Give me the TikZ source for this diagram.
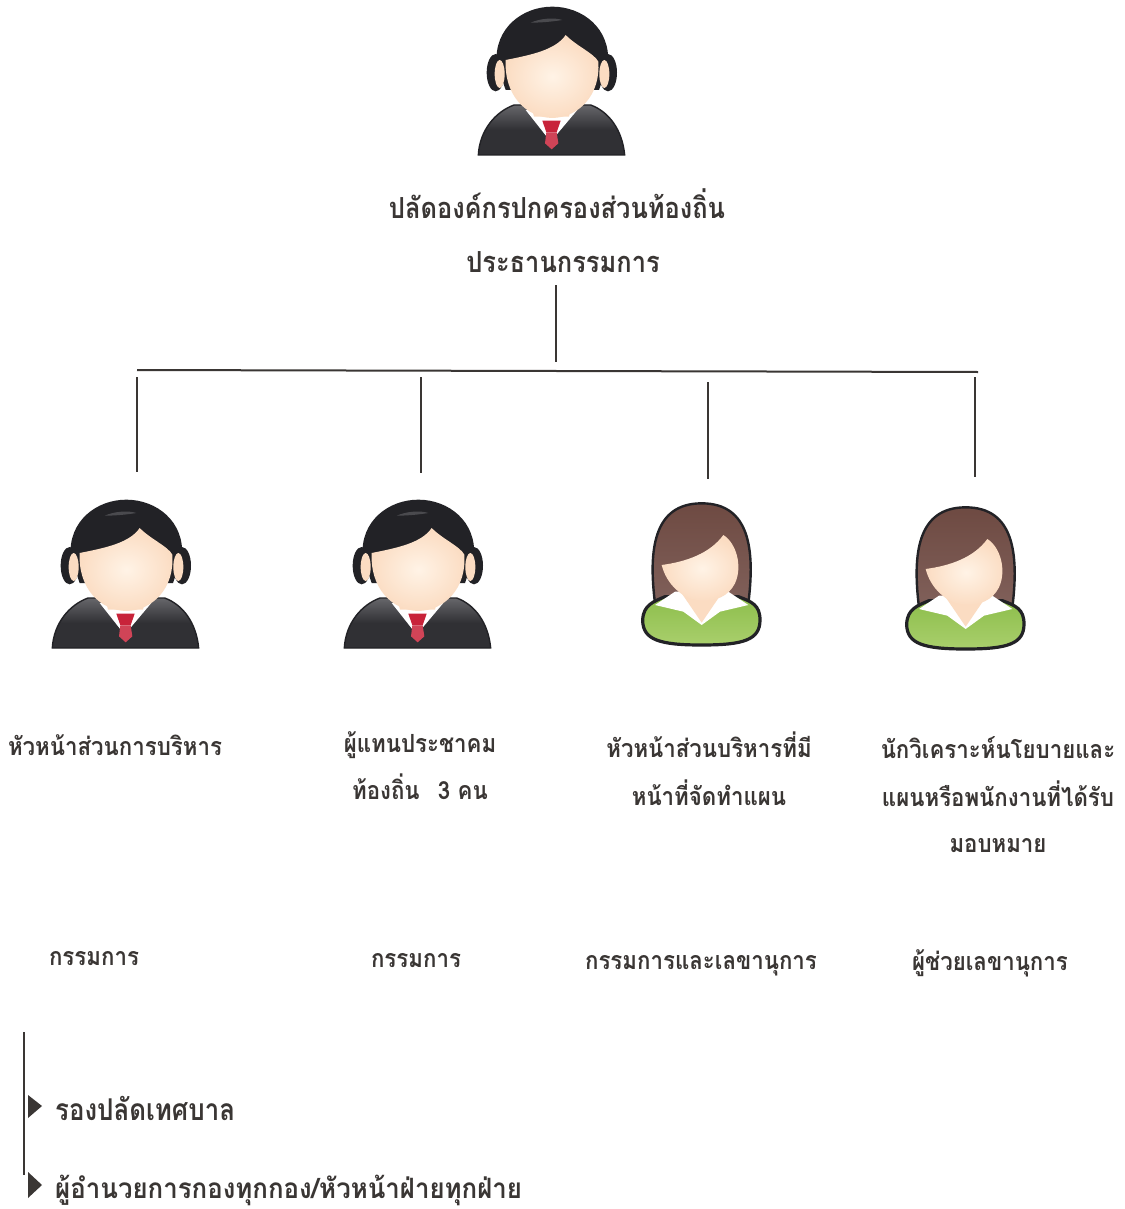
\documentclass[tikz,border=0pt]{standalone}
\usepackage{fontspec}
\usepackage{graphicx}
\newfontfamily\thaifont[Script=Thai]{Loma}
\definecolor{ink}{HTML}{3A3634}
\definecolor{suit}{HTML}{303034}
\definecolor{suitlt}{HTML}{66666A}
\definecolor{hairdk}{HTML}{222226}
\definecolor{skin}{HTML}{FBDCC2}
\definecolor{skinlt}{HTML}{FFF3E6}
\definecolor{tie}{HTML}{C8233A}
\definecolor{brown}{HTML}{6E4A42}
\definecolor{brownlt}{HTML}{80605A}
\definecolor{green1}{HTML}{8DBE4C}
\definecolor{green2}{HTML}{A9CF6C}
\newcommand{\sq}[2]{\scalebox{#1}[1]{#2}}
\tikzset{
 lab/.style={font=\thaifont\bfseries\fontsize{#1}{#1}\selectfont,text=ink,inner sep=0pt,anchor=base},
 lab/.default=25,
 conn/.style={draw=ink,line width=2pt},
 man/.pic={
  \begin{scope}[scale=1/3]
   \path[draw=hairdk,line width=1.4pt,top color=suitlt,bottom color=suit,middle color=suit]
     (58,465) .. controls (62,390) and (110,335) .. (165,315) -- (395,315) .. controls (450,335) and (490,390) .. (497,465) -- cycle;
   \fill[white] (200,330) -- (275,425) -- (355,330) -- cycle;
   \fill[skin] (215,310) -- (340,310) -- (330,350) -- (225,350) -- cycle;
   \fill[tie] (250,362) -- (305,362) -- (293,397) -- (262,397) -- cycle;
   \fill[tie!85!white] (262,397) -- (293,397) -- (298,430) -- (278,448) -- (258,430) -- cycle;
   \fill[hairdk] (110,218) ellipse [x radius=27,y radius=56];
   \fill[hairdk] (447,218) ellipse [x radius=27,y radius=56];
   \path[fill=hairdk] (113,190) .. controls (105,85) and (190,20) .. (280,20) .. controls (370,20) and (455,85) .. (447,190) -- (420,270) -- (140,270) -- cycle;
   \fill[skin] (122,222) ellipse [x radius=15,y radius=42];
   \fill[skin] (436,222) ellipse [x radius=15,y radius=42];
   \fill[suitlt,opacity=.6] (215,68) .. controls (245,55) and (285,52) .. (310,60) .. controls (280,65) and (245,68) .. (215,68) -- cycle;
   \path[inner color=skinlt,outer color=skin]
     (140,180) .. controls (215,165) and (290,150) .. (320,105) .. controls (355,140) and (405,160) .. (418,185) .. controls (425,285) and (360,352) .. (280,354) .. controls (200,352) and (135,285) .. (140,180) -- cycle;
  \end{scope}
 },
 woman/.pic={
  \begin{scope}[scale=1/3]
   \path[draw=hairdk,line width=2.4pt,top color=brown,bottom color=brownlt]
     (105,340) .. controls (85,180) and (100,40) .. (245,40) .. controls (390,40) and (405,180) .. (385,340) -- cycle;
   \path[draw=hairdk,line width=3.2pt,top color=green1,bottom color=green2]
     (68,390) .. controls (70,345) and (100,335) .. (135,320) -- (355,320) .. controls (395,335) and (420,345) .. (420,390) .. controls (420,450) and (370,465) .. (245,465) .. controls (120,465) and (68,450) .. (68,390) -- cycle;
   \fill[white] (105,345) -- (165,305) -- (325,305) -- (385,345) -- (300,365) -- (245,405) -- (190,365) -- cycle;
   \fill[skin] (185,310) -- (305,310) -- (245,398) -- cycle;
   \path[inner color=skinlt,outer color=skin]
     (125,225) .. controls (200,215) and (270,190) .. (310,135) .. controls (350,160) and (368,230) .. (345,280) .. controls (325,320) and (285,335) .. (240,332) .. controls (190,328) and (140,285) .. (125,225) -- cycle;
  \end{scope}
 }
}
\begin{document}
\begin{tikzpicture}[x=1pt,y=-1pt]
\useasboundingbox[fill=white] (0,0) rectangle (1124,1209);
% icons
\pic at (459,0) {man};
\pic at (33,493) {man};
\pic at (325,493) {man};
\pic at (620,490) {woman};
\pic at (884,494) {woman};
% labels
\node[lab=29] (chair1) at (557,218) {\sq{.877}{ปลัดองค์กรปกครองส่วนท้องถิ่น}};
\node[lab=29] (chair2) at (563,272) {\sq{.877}{ประธานกรรมการ}};
\node[lab] (a1) at (115,755) {\sq{.89}{หัวหน้าส่วนการบริหาร}};
\node[lab] (b1) at (420,752) {\sq{.89}{ผู้แทนประชาคม}};
\node[lab] (b2) at (420,799) {\sq{.89}{ท้องถิ่น\hspace{12pt} 3 คน}};
\node[lab] (c1) at (709,757) {\sq{.89}{หัวหน้าส่วนบริหารที่มี}};
\node[lab] (c2) at (709,805) {\sq{.89}{หน้าที่จัดทำแผน}};
\node[lab] (d1) at (998,758) {\sq{.89}{นักวิเคราะห์นโยบายและ}};
\node[lab] (d2) at (998,806) {\sq{.89}{แผนหรือพนักงานที่ได้รับ}};
\node[lab] (d3) at (998,852) {\sq{.89}{มอบหมาย}};
\node[lab] (r1) at (94,965) {\sq{.89}{กรรมการ}};
\node[lab] (r2) at (416,967) {\sq{.89}{กรรมการ}};
\node[lab] (r3) at (701,969) {\sq{.89}{กรรมการและเลขานุการ}};
\node[lab] (r4) at (990,970) {\sq{.89}{ผู้ช่วยเลขานุการ}};
\node[lab=30,anchor=base west] (n1) at (55,1120) {\sq{.861}{รองปลัดเทศบาล}};
\node[lab=28,anchor=base west] (n2) at (55,1198) {\sq{.922}{ผู้อำนวยการกองทุกกอง/หัวหน้าฝ่ายทุกฝ่าย}};
% connector ends
\coordinate (top) at (556,285);
\coordinate (topb) at (556,362);
\coordinate (busl) at (137,370);
\coordinate (busr) at (978,372);
\coordinate (a0) at (137,377); \coordinate (a9) at (137,472);
\coordinate (b0) at (421,377); \coordinate (b9) at (421,473);
\coordinate (c0) at (708,382); \coordinate (c9) at (708,479);
\coordinate (d0) at (975,377); \coordinate (d9) at (975,477);
\coordinate (s0) at (24,1032); \coordinate (s9) at (24,1175);
\draw[conn] (top) -- (topb);
\draw[conn] (busl) -- (busr);
\draw[conn] (a0) -- (a9);
\draw[conn] (b0) -- (b9);
\draw[conn] (c0) -- (c9);
\draw[conn] (d0) -- (d9);
\draw[conn] (s0) -- (s9);
% bullets
\fill[ink] (28,1095) -- (42,1106) -- (28,1118) -- cycle;
\fill[ink] (28,1172) -- (42,1185) -- (28,1198) -- cycle;
\end{tikzpicture}
\end{document}
